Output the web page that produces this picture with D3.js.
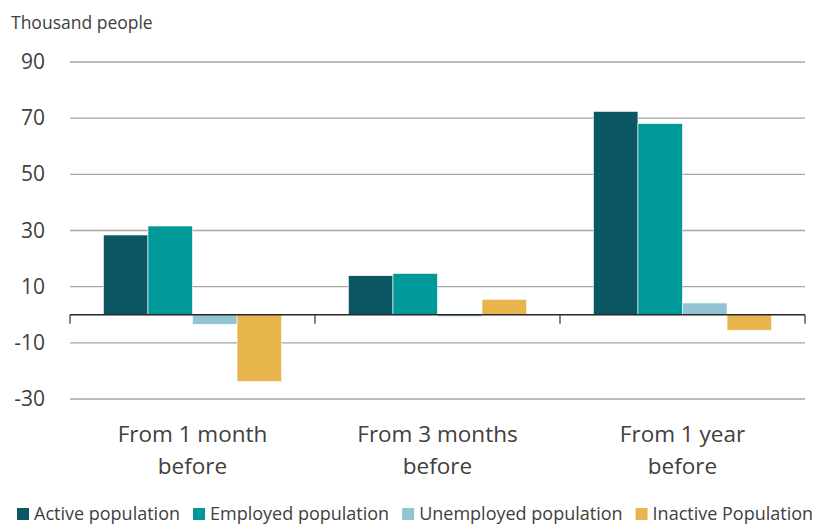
<!DOCTYPE html>
<html>
<head>
<meta charset="utf-8">
<script src="https://cdn.jsdelivr.net/npm/d3@7"></script>
<style>
  body { margin: 0; background: #fff; }
  text { font-family: "Open Sans", "Noto Sans", sans-serif; fill: #404040; }
</style>
</head>
<body>
<svg id="chart" width="826" height="526"></svg>
<script>
// data
var categories = [["From 1 month", "before"], ["From 3 months", "before"], ["From 1 year", "before"]];
var seriesNames = ["Active population", "Employed population", "Unemployed population", "Inactive Population"];
var seriesColors = ["#0a5662", "#009999", "#92c5d1", "#e8b44c"];
var activeVals = [28.4, 13.9, 72.4];
var employedVals = [31.6, 14.7, 68.1];
var unemployedVals = [-3.4, -0.7, 4.2];
var inactiveVals = [-23.8, 5.5, -5.5];
var yTicks = [-30, -10, 10, 30, 50, 70, 90];

var allSeries = [activeVals, employedVals, unemployedVals, inactiveVals];

var svg = d3.select("svg#chart");
var left = 70, right = 805;

var x = d3.scaleBand().domain([0, 1, 2]).range([left, right]).padding(0);
var y = d3.scaleLinear().domain([-30, 90]).range([399, 62]);

// each bar = band/(4+1.5), gap width 150%
var barW = x.bandwidth() / 5.5;
var gap = barW * 0.75;

svg.append("text")
   .text("Thousand people")
   .attr("x", 11)
   .attr("y", 29)
   .attr("style", "font-size: 17.5px");

// gridlines + y labels
for (var i = 0; i < yTicks.length; i++) {
  svg.append("line")
     .attr("x1", left).attr("x2", right)
     .attr("y1", y(yTicks[i])).attr("y2", y(yTicks[i]))
     .attr("stroke", "#a6a6a6")
     .attr("stroke-width", 1.3);
  svg.append("text")
     .text(yTicks[i])
     .attr("x", 45)
     .attr("y", y(yTicks[i]) + 7)
     .attr("text-anchor", "end")
     .attr("style", "font-size: 21px");
}

// bars
for (var s = 0; s < allSeries.length; s++) {
  for (var c = 0; c < categories.length; c++) {
    var v = allSeries[s][c];
    svg.append("rect")
       .attr("x", x(c) + gap + s * barW)
       .attr("width", barW)
       .attr("y", Math.min(y(v), y(0)))
       .attr("height", Math.abs(y(v) - y(0)))
       .attr("fill", seriesColors[s])
       .attr("stroke", "#fff")
       .attr("stroke-width", 0.6);
  }
}

// zero axis with category ticks
svg.append("line")
   .attr("x1", left).attr("x2", right)
   .attr("y1", y(0)).attr("y2", y(0))
   .attr("stroke", "#262626")
   .attr("stroke-width", 1.3);
for (var k = 0; k <= categories.length; k++) {
  var tx = k < categories.length ? x(k) : x(categories.length - 1) + x.bandwidth();
  svg.append("line")
     .attr("x1", tx).attr("x2", tx)
     .attr("y1", y(0)).attr("y2", y(0) + 9)
     .attr("stroke", "#404040")
     .attr("stroke-width", 1.3);
}

// category labels
for (var c = 0; c < categories.length; c++) {
  for (var l = 0; l < categories[c].length; l++) {
    svg.append("text")
       .text(categories[c][l])
       .attr("x", x(c) + x.bandwidth() / 2)
       .attr("y", 442 + l * 32)
       .attr("text-anchor", "middle")
       .attr("style", "font-size: 22.5px");
  }
}

// legend
var lx = 17;
for (var s = 0; s < seriesNames.length; s++) {
  svg.append("rect")
     .attr("x", lx).attr("y", 508)
     .attr("width", 12).attr("height", 12)
     .attr("fill", seriesColors[s]);
  var t = svg.append("text")
     .text(seriesNames[s])
     .attr("x", lx + 17)
     .attr("y", 520)
     .attr("style", "font-size: 18px");
  lx += 17 + t.node().getComputedTextLength() + 13;
}
</script>
</body>
</html>
